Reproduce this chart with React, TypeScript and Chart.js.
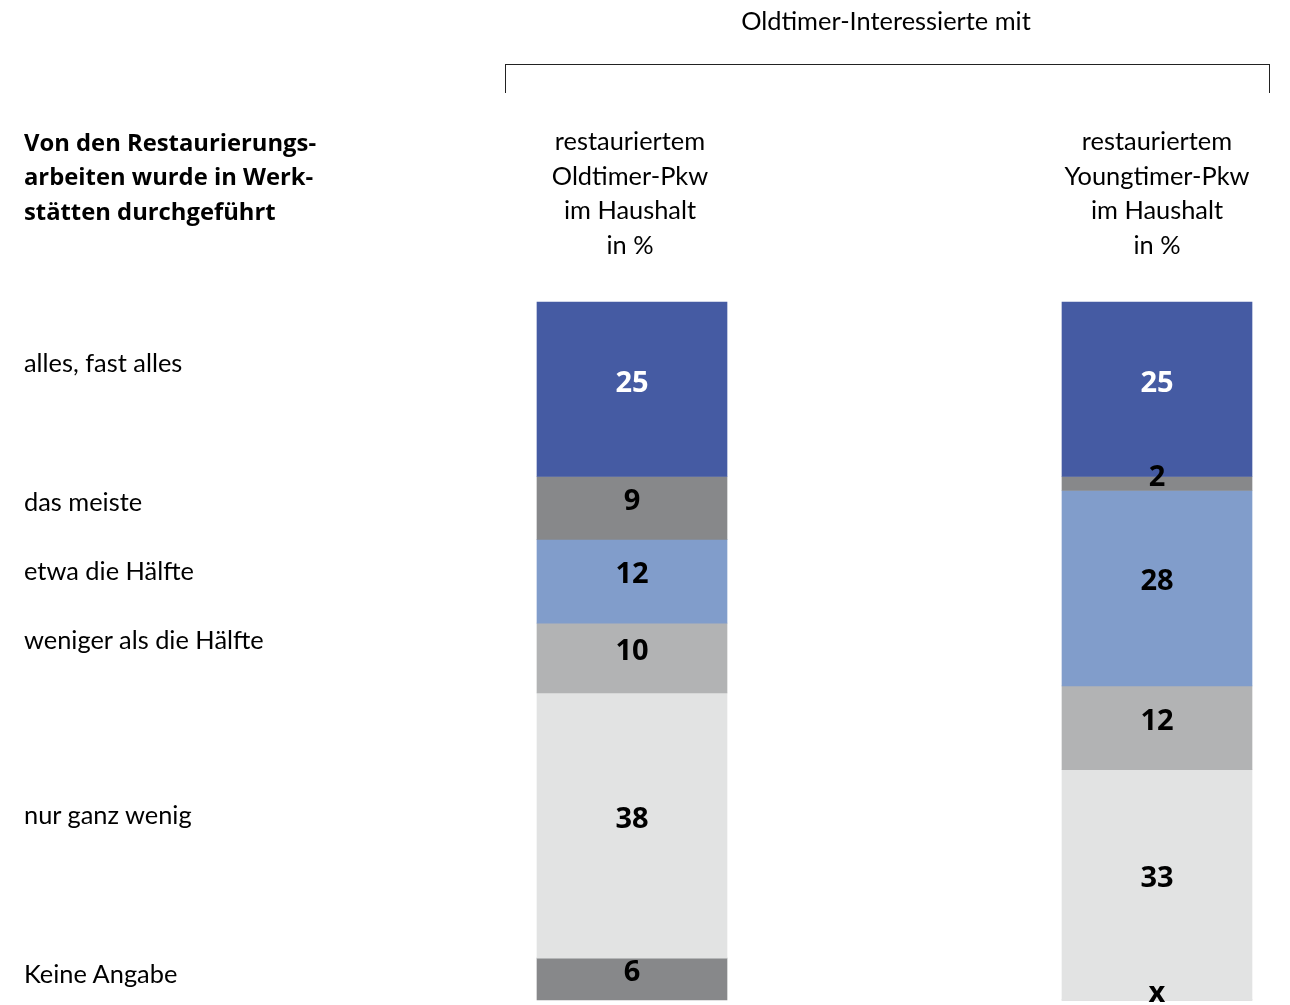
import React, { useEffect, useRef } from "react";
import { Chart, registerables } from "chart.js";

Chart.register(...registerables);

const groupTitle = "Oldtimer-Interessierte mit";
const columnHeaders = [
  ["restauriertem", "Oldtimer-Pkw", "im Haushalt", "in %"],
  ["restauriertem", "Youngtimer-Pkw", "im Haushalt", "in %"],
];
const questionLines = ["Von den Restaurierungs-", "arbeiten wurde in Werk-", "stätten durchgeführt"];
const categories = ["Oldtimer-Pkw", "Youngtimer-Pkw"];
const segmentLabels = [
  "alles, fast alles",
  "das meiste",
  "etwa die Hälfte",
  "weniger als die Hälfte",
  "nur ganz wenig",
  "Keine Angabe",
];
const allesFastAlles = [25, 25];
const dasMeiste = [9, 2];
const etwaDieHaelfte = [12, 28];
const wenigerAlsDieHaelfte = [10, 12];
const nurGanzWenig = [38, 33];
const keineAngabe = [6, 0];
const seriesValues = [allesFastAlles, dasMeiste, etwaDieHaelfte, wenigerAlsDieHaelfte, nurGanzWenig, keineAngabe];
const segmentColors = ["#455BA3", "#87888A", "#819DCB", "#B2B3B4", "#E2E3E3", "#87888A"];
const labelColors = ["#ffffff", "#000000", "#000000", "#000000", "#000000", "#000000"];
const rowLabelY = [362, 501, 570, 639, 814, 973];

const FONT = "Lato, 'Open Sans', sans-serif";
const BOLD_FONT = "'Open Sans', Lato, sans-serif";

const valueLabelPlugin = {
  id: "valueLabels",
  afterDatasetsDraw(chart: any) {
    const ctx = chart.ctx;
    ctx.save();
    ctx.font = `bold 29px ${BOLD_FONT}`;
    ctx.textAlign = "center";
    ctx.textBaseline = "middle";
    chart.data.datasets.forEach((ds: any, di: number) => {
      const meta = chart.getDatasetMeta(di);
      meta.data.forEach((el: any, i: number) => {
        const v = ds.data[i];
        const cy = (el.y + el.base) / 2 - 6;
        ctx.fillStyle = labelColors[di];
        ctx.fillText(v === 0 ? "x" : String(v), el.x, cy);
      });
    });
    ctx.restore();
  },
};

export default function App() {
  const ref = useRef<HTMLCanvasElement | null>(null);
  useEffect(() => {
    if (!ref.current) return;
    const chart = new Chart(ref.current, {
      type: "bar",
      data: {
        labels: categories,
        datasets: seriesValues.map((vals, i) => ({
          label: segmentLabels[i],
          data: vals,
          backgroundColor: segmentColors[i],
          borderWidth: 0,
          barThickness: 190,
          clip: false as any,
        })),
      },
      options: {
        animation: false,
        responsive: false,
        devicePixelRatio: 1,
        layout: { padding: { left: 632, right: 133, top: 302, bottom: 5 } },
        plugins: { legend: { display: false }, tooltip: { enabled: false } },
        scales: {
          x: { stacked: true, display: false, offset: false, grid: { display: false } },
          y: { stacked: true, display: false, min: 0, max: 100, reverse: true },
        },
      },
      plugins: [valueLabelPlugin],
    });
    return () => chart.destroy();
  }, []);

  const textStyle: React.CSSProperties = {
    position: "absolute",
    fontFamily: FONT,
    fontSize: 25.4,
    color: "#000",
    whiteSpace: "nowrap",
  };

  return (
    <div style={{ position: "absolute", left: 0, top: 0, width: 1290, height: 1005, background: "#fff", overflow: "hidden" }}>
      <canvas ref={ref} width={1290} height={1005} style={{ position: "absolute", left: 0, top: 0 }} />
      <div style={{ ...textStyle, left: 886, top: 20, transform: "translate(-50%,-50%)" }}>{groupTitle}</div>
      <div style={{ position: "absolute", left: 505, top: 64, width: 763, height: 28, borderTop: "1.5px solid #222", borderLeft: "1.5px solid #222", borderRight: "1.5px solid #222" }} />
      {columnHeaders.map((lines, ci) =>
        lines.map((t, li) => (
          <div key={`h${ci}${li}`} style={{ ...textStyle, left: ci === 0 ? 630 : 1157, top: 140 + li * 34.5, transform: "translate(-50%,-50%)" }}>{t}</div>
        ))
      )}
      {questionLines.map((t, li) => (
        <div key={`q${li}`} style={{ ...textStyle, fontFamily: BOLD_FONT, fontSize: 23.8, fontWeight: 700, left: 24, top: 142 + li * 34.3, transform: "translateY(-50%)" }}>{t}</div>
      ))}
      {segmentLabels.map((t, i) => (
        <div key={`r${i}`} style={{ ...textStyle, left: 24, top: rowLabelY[i], transform: "translateY(-50%)" }}>{t}</div>
      ))}
    </div>
  );
}
